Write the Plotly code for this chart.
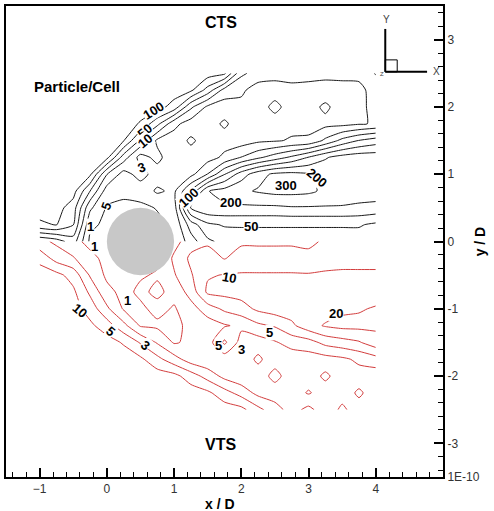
import numpy as np
import plotly.graph_objects as go

# ---------------- data ----------------
X = [-1.0, -0.75, -0.5, -0.25, 0.0, 0.25, 0.5, 0.75, 1.0, 1.25, 1.5,
     1.75, 2.0, 2.25, 2.5, 2.75, 3.0, 3.25, 3.5, 3.75, 4.0]

# upper half (CTS side, black contours), rows from y=2.5 down to y=0
Y_UP = [2.5, 2.25, 2.0, 1.75, 1.5, 1.25, 1.0, 0.75, 0.5, 0.25, 0.0]
Z_UP = [
    [150,150,150,150,150,150,150,150,150,150,150,120,6,4.2,3.8,3.8,4,3.8,3.8,3.8,5.25],
    [150,150,150,150,150,150,150,150,150,120,34,4.2,3.4,2,2,2.4,2,1.8,2,2.2,4.2],
    [150,150,150,150,150,150,150,140,80,6,2.6,2,2.4,2,3.6,2,2.2,3.4,2,2.2,4],
    [150,150,150,150,150,150,95,22,3.6,2,2.2,3.3,2,2.2,2,2.4,2.2,2.4,2.4,2.8,3.2],
    [150,150,150,150,150,105,9,2.6,2,3.3,2.2,2.2,2,2.6,2.8,3.2,3.4,6,22,52,75],
    [150,150,150,150,130,7.5,2.2,3.6,1.6,2.2,2.2,3.4,5.2,9,30,60,105,190,240,260,260],
    [150,150,150,120,5.2,2.2,3.8,2,1.8,2.4,5.2,48,150,260,320,330,310,270,250,250,250],
    [150,150,140,10.5,2,1.4,1.8,3.3,2.6,14,195,240,280,310,330,330,320,280,260,250,250],
    [150,140,75,3.4,0.9,0.8,0.8,1.1,2,110,180,180,180,180,180,190,190,190,190,180,170],
    [90,105,52,1.4,0.8,0.8,0.8,0.8,1.4,7.5,42,55,55,55,55,55,55,55,55,55,42],
    [3.1,4,7.5,0.8,0.8,0.8,0.8,0.8,1.1,4,9,22,30,30,30,30,30,30,30,30,26],
]
LEVELS_UP = [1, 3, 5, 10, 50, 100, 200, 300]

# lower half (VTS side, red contours), rows from y=0 down to y=-2.5
Y_LO = [0.0, -0.25, -0.5, -0.75, -1.0, -1.25, -1.5, -1.75, -2.0, -2.25, -2.5]
Z_LO = [
    [3.6,2.6,1.4,0.8,0.8,0.8,0.8,0.8,2.2,4.2,4.7,4.7,4.7,4.7,4.7,4.7,4.7,5.5,6,6,6],
    [8.5,4.2,3.2,1.4,0.8,0.8,0.8,0.8,3.4,6,7,4.9,7,7,7,7,6,7,7,7,7],
    [15,13,8,2.8,0.8,0.7,0.9,1.2,2.8,4.8,9.5,10.5,11,11,11,11,11,12,13,13,13],
    [15,15,12,4.6,1.6,0.7,1.4,0.8,1.6,3.8,12,13,14,14,14,14,14,15,15,15,15],
    [15,15,14,8,3.4,0.9,0.8,1.6,0.9,2.2,4,6,8,12,15,15,15,15,18,19,22],
    [15,15,15,12,7.5,3.6,0.9,0.8,0.8,1.4,2,2.8,3.4,4.6,5.5,9,16,22,26,26,24],
    [15,15,15,15,14,9.5,4.8,2.8,0.9,1.4,2,6,2.2,2,2.8,3.8,4.2,6.5,8,9.5,16],
    [15,15,15,15,15,15,12,6.5,3.8,2,1.4,1.8,2.2,0.8,2.2,1.8,2,2.2,2.6,3.4,4.2],
    [15,15,15,15,15,15,15,15,13,7.5,4.2,2.4,1.6,2,3.6,2,2,0.8,2,2.2,1.8],
    [15,15,15,15,15,15,15,15,15,15,12,7,4.2,2.4,2,2,0.9,2,2.2,0.8,2.2],
    [15,15,15,15,15,15,15,15,15,15,15,15,13,6.5,3.8,2.2,3.6,1.8,3.4,2,2.4],
]
LEVELS_LO = [1, 3, 5, 10, 20]

# contour labels (x/D, y/D, text, angle)
LABELS_UP = [
    (0.70, 1.94, "100", -32), (0.56, 1.63, "50", -40), (0.56, 1.49, "10", -40),
    (0.52, 1.10, "3", -20), (-0.01, 0.52, "5", -70), (-0.24, 0.23, "1", 0),
    (1.22, 0.65, "100", -42), (1.85, 0.58, "200", 0), (2.67, 0.83, "300", 0),
    (3.12, 0.95, "200", 40), (2.15, 0.23, "50", 0),
]
LABELS_LO = [
    (-0.19, -0.07, "1", 0), (0.30, -0.88, "1", 0), (-0.40, -1.02, "10", 40),
    (0.06, -1.34, "5", 40), (0.58, -1.54, "3", 40), (1.81, -0.54, "10", 10),
    (3.41, -1.07, "20", 0), (2.42, -1.35, "5", 0), (1.66, -1.54, "5", 0),
    (2.00, -1.60, "3", 0),
]

CYL_X, CYL_Y, CYL_D = 0.5, 0.0, 1.0
X_TICKS = [-1, 0, 1, 2, 3, 4]
Y_TICKS = [-3.5, -3, -2, -1, 0, 1, 2, 3]
Y_TICKTEXT = ["1E-10", "-3", "-2", "-1", "0", "1", "2", "3"]

BLACK = "#1a1a1a"
RED = "#d23c3c"
FONT = "Arial, Liberation Sans, sans-serif"


def to_index(z, levels, top):
    brk = [0] + list(levels) + [top]
    return np.interp(np.asarray(z, dtype=float), brk, np.arange(len(brk)))


zi_up = to_index(Z_UP, LEVELS_UP, 400)[::-1]
zi_lo = to_index(Z_LO, LEVELS_LO, 40)[::-1]

fig = go.Figure()
fig.add_trace(go.Contour(
    x=X, y=Y_UP[::-1], z=zi_up, showscale=False, hoverinfo="skip",
    contours=dict(start=1, end=len(LEVELS_UP), size=1, coloring="lines"),
    colorscale=[[0, BLACK], [1, BLACK]], line=dict(width=1, smoothing=0.6),
))
fig.add_trace(go.Contour(
    x=X, y=Y_LO[::-1], z=zi_lo, showscale=False, hoverinfo="skip",
    contours=dict(start=1, end=len(LEVELS_LO), size=1, coloring="lines"),
    colorscale=[[0, RED], [1, RED]], line=dict(width=1, smoothing=0.6),
))

# cylinder
fig.add_shape(type="circle", xref="x", yref="y",
              x0=CYL_X - CYL_D / 2, x1=CYL_X + CYL_D / 2,
              y0=CYL_Y - CYL_D / 2, y1=CYL_Y + CYL_D / 2,
              fillcolor="#c8c8c8", line=dict(width=0), layer="above")

ann = []
for (lx, ly, t, a) in LABELS_UP + LABELS_LO:
    ann.append(dict(x=lx, y=ly, xref="x", yref="y", text="<b>%s</b>" % t,
                    showarrow=False, textangle=a, bgcolor="white", borderpad=0,
                    xanchor="center", yanchor="middle",
                    font=dict(family=FONT, size=13, color="black")))

W, H = 494, 511
L, R, T, B = 4, 51, 5, 34
PW, PH = W - L - R, H - T - B


def px(x):
    return (x - L) / PW


def py(y):
    return (H - B - y) / PH


for (tx, ty, t, s, ang) in [(220, 22, "CTS", 16, 0), (75, 86, "Particle/Cell", 15, 0),
                            (219, 444, "VTS", 16, 0), (219, 504, "x / D", 14, 0),
                            (480, 241, "y / D", 14, -90)]:
    ann.append(dict(x=px(tx), y=py(ty), xref="paper", yref="paper",
                    text="<b>%s</b>" % t, showarrow=False, textangle=ang,
                    xanchor="center", yanchor="middle",
                    font=dict(family=FONT, size=s, color="black")))

# axis orientation icon
for (tx, ty, t) in [(386, 19, "Y"), (436, 71, "X"), (382, 73, "Z")]:
    ann.append(dict(x=px(tx), y=py(ty), xref="paper", yref="paper", text=t,
                    showarrow=False, xanchor="center", yanchor="middle",
                    font=dict(family=FONT, size=10 if t != "Z" else 6, color="#444")))
fig.add_shape(type="line", xref="paper", yref="paper", x0=px(385), x1=px(385),
              y0=py(28), y1=py(71), line=dict(color="black", width=2))
fig.add_shape(type="line", xref="paper", yref="paper", x0=px(385), x1=px(427),
              y0=py(71), y1=py(71), line=dict(color="black", width=2))
fig.add_shape(type="rect", xref="paper", yref="paper", x0=px(385), x1=px(397),
              y0=py(71), y1=py(59), line=dict(color="black", width=1))

fig.update_layout(
    width=W, height=H, margin=dict(l=L, r=R, t=T, b=B),
    paper_bgcolor="white", plot_bgcolor="white", showlegend=False,
    annotations=ann,
    xaxis=dict(range=[-1.5, 5.0], tickmode="array", tickvals=X_TICKS,
               ticks="inside", ticklen=9, tickwidth=2, tickcolor="black",
               showline=True, linewidth=2, linecolor="black", mirror=True,
               showgrid=False, zeroline=False,
               tickfont=dict(family=FONT, size=12, color="#333"),
               minor=dict(tickmode="linear", tick0=0, dtick=0.2, ticks="inside",
                          ticklen=5, tickwidth=1, tickcolor="black", showgrid=False)),
    yaxis=dict(range=[-3.5, 3.5], side="right", tickmode="array", tickvals=Y_TICKS,
               ticktext=Y_TICKTEXT, ticks="inside", ticklen=9, tickwidth=2,
               tickcolor="black", showline=True, linewidth=2, linecolor="black",
               mirror=True, showgrid=False, zeroline=False,
               tickfont=dict(family=FONT, size=12, color="#333"),
               minor=dict(tickmode="linear", tick0=0, dtick=0.2, ticks="inside",
                          ticklen=5, tickwidth=1, tickcolor="black", showgrid=False)),
)

fig.write_html("out.html")
